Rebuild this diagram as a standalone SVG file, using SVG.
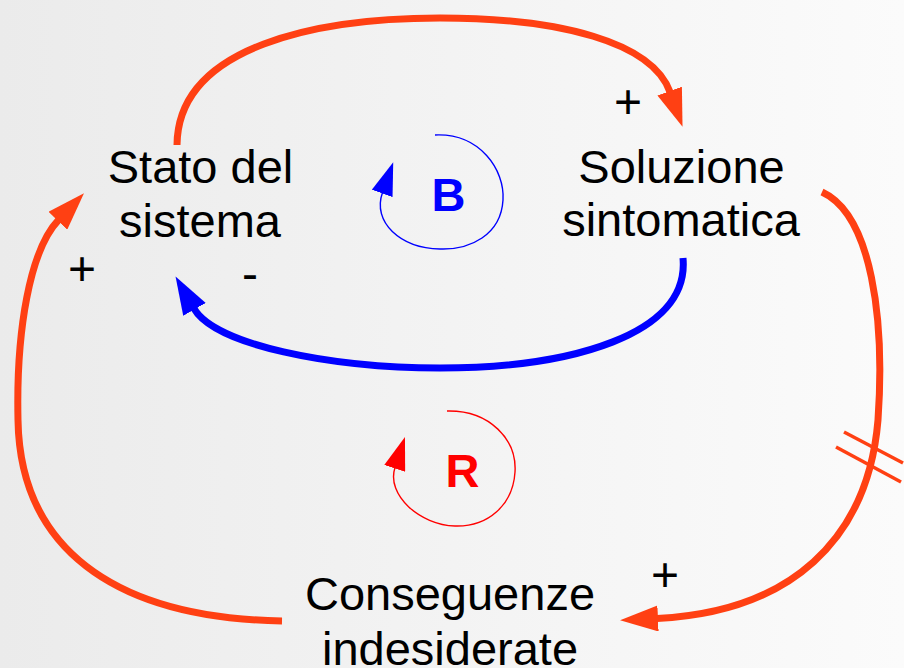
<svg xmlns="http://www.w3.org/2000/svg" width="904" height="668" viewBox="0 0 904 668">
<defs>
<linearGradient id="bg" x1="0" y1="0" x2="1" y2="0">
<stop offset="0" stop-color="#ebebeb"/>
<stop offset="1" stop-color="#fbfbfb"/>
</linearGradient>
<marker id="arrRed" viewBox="0 0 38 26" refX="1" refY="13" markerWidth="38" markerHeight="26" markerUnits="userSpaceOnUse" orient="auto">
<path d="M0,0 L38,13 L0,26 z" fill="#FF4013"/>
</marker>
<marker id="arrBlue" viewBox="0 0 38 26" refX="1" refY="13" markerWidth="38" markerHeight="26" markerUnits="userSpaceOnUse" orient="auto">
<path d="M0,0 L38,13 L0,26 z" fill="#0000FF"/>
</marker>
<marker id="loopBlue" viewBox="0 0 33 22" refX="1" refY="11" markerWidth="33" markerHeight="22" markerUnits="userSpaceOnUse" orient="auto">
<path d="M0,0 L33,11 L0,22 z" fill="#0000FF"/>
</marker>
<marker id="loopRed" viewBox="0 0 33 22" refX="1" refY="11" markerWidth="33" markerHeight="22" markerUnits="userSpaceOnUse" orient="auto">
<path d="M0,0 L33,11 L0,22 z" fill="#FF0000"/>
</marker>
</defs>
<style>
.lbl{font-family:"Liberation Sans",Arial,sans-serif;font-size:47px;fill:#000;text-anchor:middle}
.sign{font-family:"Liberation Sans",Arial,sans-serif;font-size:48px;fill:#000;text-anchor:middle}
.loopL{font-family:"Liberation Sans",Arial,sans-serif;font-size:47px;font-weight:bold;text-anchor:middle}
.red{fill:none;stroke:#FF4013;stroke-width:7}
.blue{fill:none;stroke:#0000FF;stroke-width:7}
.delay{stroke:#FF4013;stroke-width:3.5}
</style>
<rect x="0" y="0" width="904" height="668" fill="url(#bg)"/>
<g id="connectors">
<path class="red" d="M177,145 C178,45 320,18 440,18 C560,18 652,42 670,92" marker-end="url(#arrRed)"/>
<path class="red" d="M822,192 C872,215 885,320 878,420 C868,540 790,612 657,618.5" marker-end="url(#arrRed)"/>
<path class="red" d="M282,621 C110,618 20,545 18,420 C16,330 30,250 58.5,220" marker-end="url(#arrRed)"/>
<path class="blue" d="M683,258 C690,335 570,368 440,368 C330,368 215,345 194,308.5" marker-end="url(#arrBlue)"/>
<line class="delay" x1="844" y1="432" x2="903" y2="463"/>
<line class="delay" x1="836" y1="447" x2="901" y2="482"/>
<text class="sign" x="628" y="118">+</text>
<text class="sign" x="82" y="285">+</text>
<text class="sign" x="665" y="591">+</text>
<text class="sign" x="250" y="290">-</text>
</g>
<g id="loopB">
<path d="M435,135 C480,133 505,170 503,200 C501,235 470,250 440,249 C400,248 372,222 382.5,192.5" fill="none" stroke="#0000FF" stroke-width="1.4" marker-end="url(#loopBlue)"/>
<text class="loopL" x="448.5" y="211" fill="#0000FF">B</text>
</g>
<g id="loopR">
<path d="M447,411 C490,410 517,440 515,472 C513,505 488,527 455,526 C420,525 386,495 395,467.5" fill="none" stroke="#FF0000" stroke-width="1.4" marker-end="url(#loopRed)"/>
<text class="loopL" x="462.5" y="487" fill="#FF0000">R</text>
</g>
<g id="stato">
<text class="lbl" x="200.5" y="183">Stato del</text>
<text class="lbl" x="200" y="237">sistema</text>
</g>
<g id="soluzione">
<text class="lbl" x="681.5" y="183">Soluzione</text>
<text class="lbl" x="681" y="236">sintomatica</text>
</g>
<g id="conseguenze">
<text class="lbl" x="450" y="610">Conseguenze</text>
<text class="lbl" x="450" y="665">indesiderate</text>
</g>
</svg>
